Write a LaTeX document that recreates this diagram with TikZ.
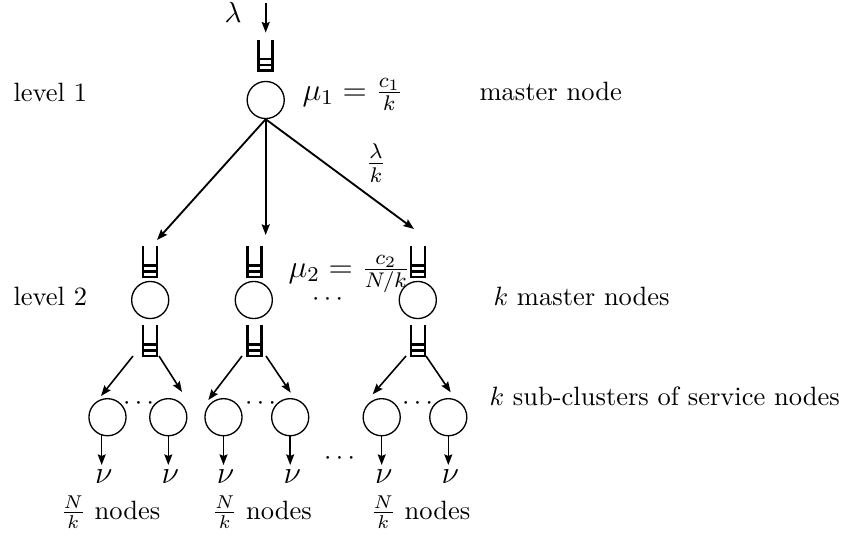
\documentclass[tikz,border=0pt]{standalone}
\usetikzlibrary{arrows.meta,calc}
\begin{document}
\begin{tikzpicture}[x=0.3774pt,y=-0.3774pt,
  srv/.style={circle,draw,line width=0.5pt,minimum size=14pt,inner sep=0pt},
  qbox/.style={inner sep=0pt,minimum width=4.9pt,minimum height=11.3pt},
  qline/.style={line width=1pt},
  arr/.style={line width=0.7pt,-{Stealth[length=4pt,width=3pt,inset=0.6pt]}},
  sarr/.style={line width=0.6pt,-{Stealth[length=4pt,width=3pt,inset=0.6pt]}},
  lbl/.style={inner sep=0pt}]
\useasboundingbox (0,0) rectangle (857,536);

% level 1
\coordinate (src) at (265.7,3);
\node[lbl,anchor=base west] (lam) at (224,22) {\fontsize{10.5}{12}\selectfont$\lambda$};
\node[qbox] (q0) at (265.7,55) {};
\node[srv] (m0) at (265.7,100) {};
\draw[arr,shorten >=2.6pt] (src) -- (q0.north);
\node[lbl,anchor=base west] (mu1) at (302,100) {\large $\mu_1=\frac{c_1}{k}$};
\node[lbl,anchor=base west] (lv1) at (13,101.7) {level 1};
\node[lbl,anchor=base west] (mn) at (479,100.7) {master node};

% arrows to level 2
\coordinate (t1) at (157,240);
\coordinate (t2) at (265.7,235);
\coordinate (t3) at (414,229);
\draw[arr] (m0.south) -- (t1);
\draw[arr] (m0.south) -- (t2);
\draw[arr] (m0.south) -- (t3);
\node[lbl] (lk) at (376,163) {\large $\frac{\lambda}{k}$};

% level 2
\node[qbox] (qa1) at (150,261.5) {};
\node[qbox] (qa2) at (254.3,261.5) {};
\node[qbox] (qa3) at (418,261.5) {};
\node[srv] (m1) at (150.2,300) {};
\node[srv] (m2) at (253.8,300) {};
\node[srv] (m3) at (417.8,300) {};
\node[qbox] (qb1) at (150,340.5) {};
\node[qbox] (qb2) at (254.3,340.5) {};
\node[qbox] (qb3) at (418,340.5) {};
\node[lbl,anchor=base west] (mu2) at (288,277) {\large $\mu_2=\frac{c_2}{N/k}$};
\node[lbl,anchor=base] (d2) at (327.5,305.6) {$\cdots$};
\node[lbl,anchor=base west] (lv2) at (13,305) {level 2};
\node[lbl,anchor=base west] (kmn) at (493,305) {$k$ master nodes};

\foreach \q in {q0,qa1,qa2,qa3,qb1,qb2,qb3}{
  \draw[qline] (\q.north west) -- (\q.south west) -- (\q.south east) -- (\q.north east);
  \draw[qline] ($(\q.south west)!0.18!(\q.north west)$) -- ($(\q.south east)!0.18!(\q.north east)$);
  \draw[qline] ($(\q.south west)!0.37!(\q.north west)$) -- ($(\q.south east)!0.37!(\q.north east)$);
}

% service nodes
\node[srv] (c1) at (107.5,417.2) {};
\node[srv] (c2) at (168.3,417.2) {};
\node[srv] (c3) at (223.5,417.2) {};
\node[srv] (c4) at (290.2,417.2) {};
\node[srv] (c5) at (381.7,417.2) {};
\node[srv] (c6) at (448.3,417.2) {};

\coordinate (s1) at (133,356);  \coordinate (e1) at (101,396);
\coordinate (s2) at (159,356);  \coordinate (e2) at (182,392);
\coordinate (s3) at (242,356);  \coordinate (e3) at (208.3,400);
\coordinate (s4) at (266,356);  \coordinate (e4) at (290.7,392.7);
\coordinate (s5) at (406,356);  \coordinate (e5) at (372.7,394.3);
\coordinate (s6) at (426,356);  \coordinate (e6) at (450.7,392.3);
\foreach \i in {1,...,6}{\draw[sarr] (s\i) -- (e\i);}

\node[lbl,anchor=base] (dd1) at (138.5,409.6) {$\cdots$};
\node[lbl,anchor=base] (dd2) at (260.5,409.6) {$\cdots$};
\node[lbl,anchor=base] (dd3) at (417.5,409.6) {$\cdots$};
\node[lbl,anchor=base] (dd4) at (339.5,464.6) {$\cdots$};
\node[lbl,anchor=base west] (ksc) at (489,405) {$k$ sub-clusters of service nodes};

% outputs
\coordinate (o1a) at (101.7,435);
\coordinate (o1) at (101.7,465);
\draw[sarr] (o1a) -- (o1);
\foreach \i/\x in {2/168.3,3/223.5,4/290.2,5/381.7,6/448.3}{
  \coordinate (o\i) at (\x,465);
  \draw[sarr] (c\i.south) -- (o\i);
}
\foreach \i/\x in {1/101.7,2/168.3,3/223.5,4/290.2,5/381.7,6/448.3}{
  \node[lbl,anchor=base] (nu\i) at (\x+2,483) {\fontsize{13}{15}\selectfont$\nu$};
}

\node[lbl,anchor=base] (nk1) at (110.5,519) {$\frac{N}{k}$ nodes};
\node[lbl,anchor=base] (nk2) at (262,519) {$\frac{N}{k}$ nodes};
\node[lbl,anchor=base] (nk3) at (420.5,519) {$\frac{N}{k}$ nodes};
\end{tikzpicture}
\end{document}
